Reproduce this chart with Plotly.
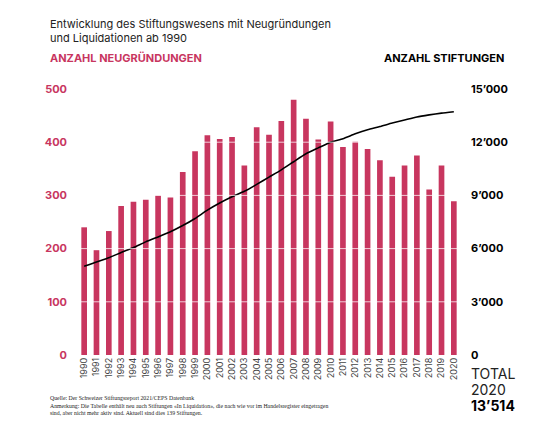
import plotly.graph_objects as go

# Data
years = list(range(1990, 2021))
neugruendungen = [240, 197, 233, 280, 288, 292, 300, 296, 344, 383,
                  413, 406, 410, 356, 428, 414, 440, 480, 444, 405,
                  439, 391, 401, 387, 366, 335, 356, 375, 311, 356, 289]
stiftungen = [5000, 5250, 5480, 5780, 6060, 6380, 6660, 6950, 7300, 7700,
              8170, 8570, 8920, 9230, 9620, 10030, 10440, 10900, 11350, 11680,
              12000, 12200, 12470, 12700, 12880, 13080, 13250, 13420, 13540, 13640, 13720]
left_ticks = [0, 100, 200, 300, 400, 500]
right_ticks = [0, 3000, 6000, 9000, 12000, 15000]
total_2020 = "13’514"

PINK = "#C8365F"
FONT = "Inter"

# plot area in figure pixels
L, T, W, H = 70, 81, 382, 266

fig = go.Figure()

fig.add_trace(go.Bar(x=years, y=neugruendungen, marker_color=PINK,
                     marker_line_width=0, name="Neugründungen"))
fig.add_trace(go.Scatter(x=years, y=stiftungen, yaxis="y2", mode="lines",
                         line=dict(color="black", width=1.6, shape="spline", smoothing=0.5),
                         name="Stiftungen"))

# white grid lines drawn over the bars
for t in left_ticks[1:-1]:
    fig.add_shape(type="line", xref="paper", yref="y", x0=0, x1=1, y0=t, y1=t,
                  line=dict(color="rgba(255,255,255,0.75)", width=1), layer="above")

fig.update_layout(
    width=550, height=424,
    margin=dict(l=L, r=550 - L - W, t=T, b=424 - T - H),
    paper_bgcolor="white", plot_bgcolor="white",
    showlegend=False, bargap=0.54,
    separators=".’",
    font=dict(family=FONT, color="#222"),
    xaxis=dict(range=[1989.5, 2020.5], tickmode="array", tickvals=years,
               tickangle=-90, tickfont=dict(size=9, color="#444"),
               showgrid=False, zeroline=False, showline=False, ticks=""),
    yaxis=dict(range=[0, 500], tickvals=left_ticks, showgrid=False, zeroline=False,
               tickfont=dict(size=11, color=PINK, weight="bold"), ticklabelstandoff=10),
    yaxis2=dict(range=[0, 15000], tickvals=right_ticks, tickformat=",d", overlaying="y",
                side="right", showgrid=False, zeroline=False,
                tickfont=dict(size=11, color="black", weight="bold"), ticklabelstandoff=10),
)

# positions measured on the screenshot (page has an 8px body margin)
def px_x(px):
    return (px - 8 - L) / W

def px_y(py):
    return (T + H - (py - 8)) / H

annos = [
    dict(text="Entwicklung des Stiftungswesens mit Neugründungen<br>und Liquidationen ab 1990",
         x=px_x(48), y=px_y(15), xanchor="left", yanchor="top", align="left",
         font=dict(size=11, color="#222")),
    dict(text="<b>ANZAHL NEUGRÜNDUNGEN</b>", x=px_x(48), y=px_y(58),
         xanchor="left", yanchor="middle", font=dict(size=11, color=PINK)),
    dict(text="<b>ANZAHL STIFTUNGEN</b>", x=px_x(506), y=px_y(58),
         xanchor="right", yanchor="middle", font=dict(size=11, color="black")),
    dict(text="TOTAL", x=px_x(469), y=px_y(373), xanchor="left", yanchor="middle",
         font=dict(size=14, color="#222")),
    dict(text="2020", x=px_x(469), y=px_y(389), xanchor="left", yanchor="middle",
         font=dict(size=14, color="#222")),
    dict(text="<b>" + total_2020 + "</b>", x=px_x(469), y=px_y(405), xanchor="left",
         yanchor="middle", font=dict(size=14, color="black")),
    dict(text="Quelle: Der Schweizer Stiftungsreport 2021/CEPS Datenbank<br>"
              "Anmerkung: Die Tabelle enthält neu auch Stiftungen «In Liquidation», die nach wie vor im Handelsregister eingetragen<br>"
              "sind, aber nicht mehr aktiv sind. Aktuell sind dies 139 Stiftungen.",
         x=px_x(48), y=px_y(393), xanchor="left", yanchor="top", align="left",
         font=dict(size=5.8, family="Liberation Serif", color="#222")),
]
for a in annos:
    fig.add_annotation(xref="paper", yref="paper", showarrow=False, **a)

fig.write_html("out.html")
